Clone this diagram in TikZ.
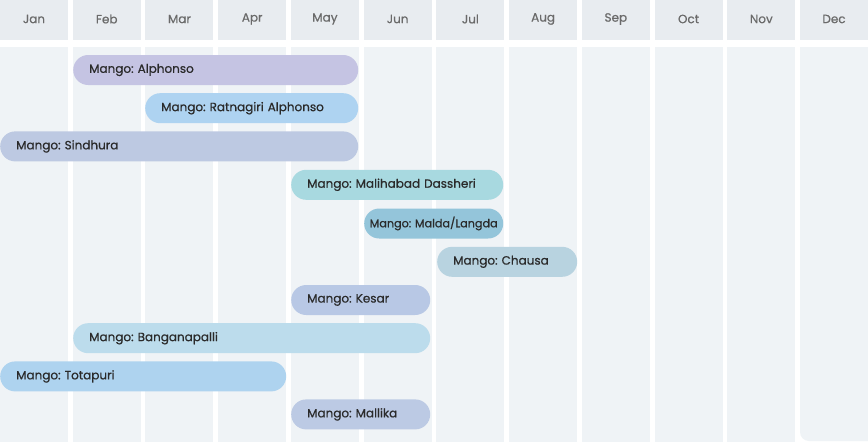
\documentclass[tikz,border=0pt]{standalone}
\usepackage{fontspec}
\setmainfont{Poppins}
\newfontfamily\barfont{Poppins}[FakeBold=0.6]
\frenchspacing
\definecolor{hdrfill}{HTML}{E8ECF0}
\definecolor{bodyfill}{HTML}{EFF3F6}
\definecolor{hdrtextc}{HTML}{6A6A6A}
\definecolor{bartext}{HTML}{2A2A2A}
\definecolor{cAlph}{HTML}{C5C4E3}
\definecolor{cRatn}{HTML}{AED3F1}
\definecolor{cSind}{HTML}{BDC9E2}
\definecolor{cMali}{HTML}{A8D9E0}
\definecolor{cMald}{HTML}{94C5DA}
\definecolor{cChau}{HTML}{B8D3E0}
\definecolor{cKesa}{HTML}{B8C8E5}
\definecolor{cBang}{HTML}{BCDCEC}
\definecolor{cTota}{HTML}{AED3EF}
\definecolor{cMall}{HTML}{BCCAE4}
\begin{document}
\begin{tikzpicture}[x=1pt,y=-1pt,
  hdrtext/.style={text=hdrtextc,font=\barfont\fontsize{12}{14}\selectfont,inner sep=0pt},
  bar/.style={rounded corners=15pt,minimum height=30pt,inner ysep=0pt,inner xsep=16pt,
    anchor=west,text=bartext,font=\barfont\fontsize{12}{14}\selectfont,align=left},
]
\useasboundingbox (0,0) rectangle (868,442);
\fill[white] (0,0) rectangle (868,442);
\begin{scope}
\clip (0,0) rectangle (868,442);
\foreach \m [count=\i from 0] in {Jan,Feb,Mar,Apr,May,Jun,Jul,Aug,Sep,Oct,Nov} {
  \pgfmathsetmacro\xa{\i*72.73}
  \fill[hdrfill] (\xa,0) rectangle ++(68,40);
  \fill[bodyfill] (\xa,47) rectangle ++(68,400);
  \node[hdrtext] (h\i) at (\xa+34,19) {\m};
}
\fill[hdrfill] (800,0) rectangle (868,40);
\fill[bodyfill] (800,47) -- (800,432) arc[start angle=180,end angle=90,radius=9] -- (868,441) -- (868,47) -- cycle;
\node[hdrtext] (h11) at (834,19) {Dec};
\end{scope}
% bars
\node[bar,fill=cAlph,text width=285-32] (alph) at (73,70) {Mango: Alphonso};
\node[bar,fill=cRatn,text width=213-32] (ratn) at (145,108.2) {Mango: Ratnagiri Alphonso};
\node[bar,fill=cSind,text width=358-32] (sind) at (0,146.4) {Mango: Sindhura};
\node[bar,fill=cMali,text width=212-32] (mali) at (291,184.8) {Mango: Malihabad Dassheri};
\node[bar,fill=cMald,text width=139-8,inner xsep=4pt,align=center,font=\barfont\fontsize{11.2}{13}\selectfont] (mald) at (364,223.5) {Mango: Malda/Langda};
\node[bar,fill=cChau,text width=140-32] (chau) at (437,261.8) {Mango: Chausa};
\node[bar,fill=cKesa,text width=139-32] (kesa) at (291,300) {Mango: Kesar};
\node[bar,fill=cBang,text width=357-32] (bang) at (73,338.2) {Mango: Banganapalli};
\node[bar,fill=cTota,text width=286-32] (tota) at (0,376.4) {Mango: Totapuri};
\node[bar,fill=cMall,text width=139-32] (mall) at (291,414.4) {Mango: Mallika};
\end{tikzpicture}
\end{document}
